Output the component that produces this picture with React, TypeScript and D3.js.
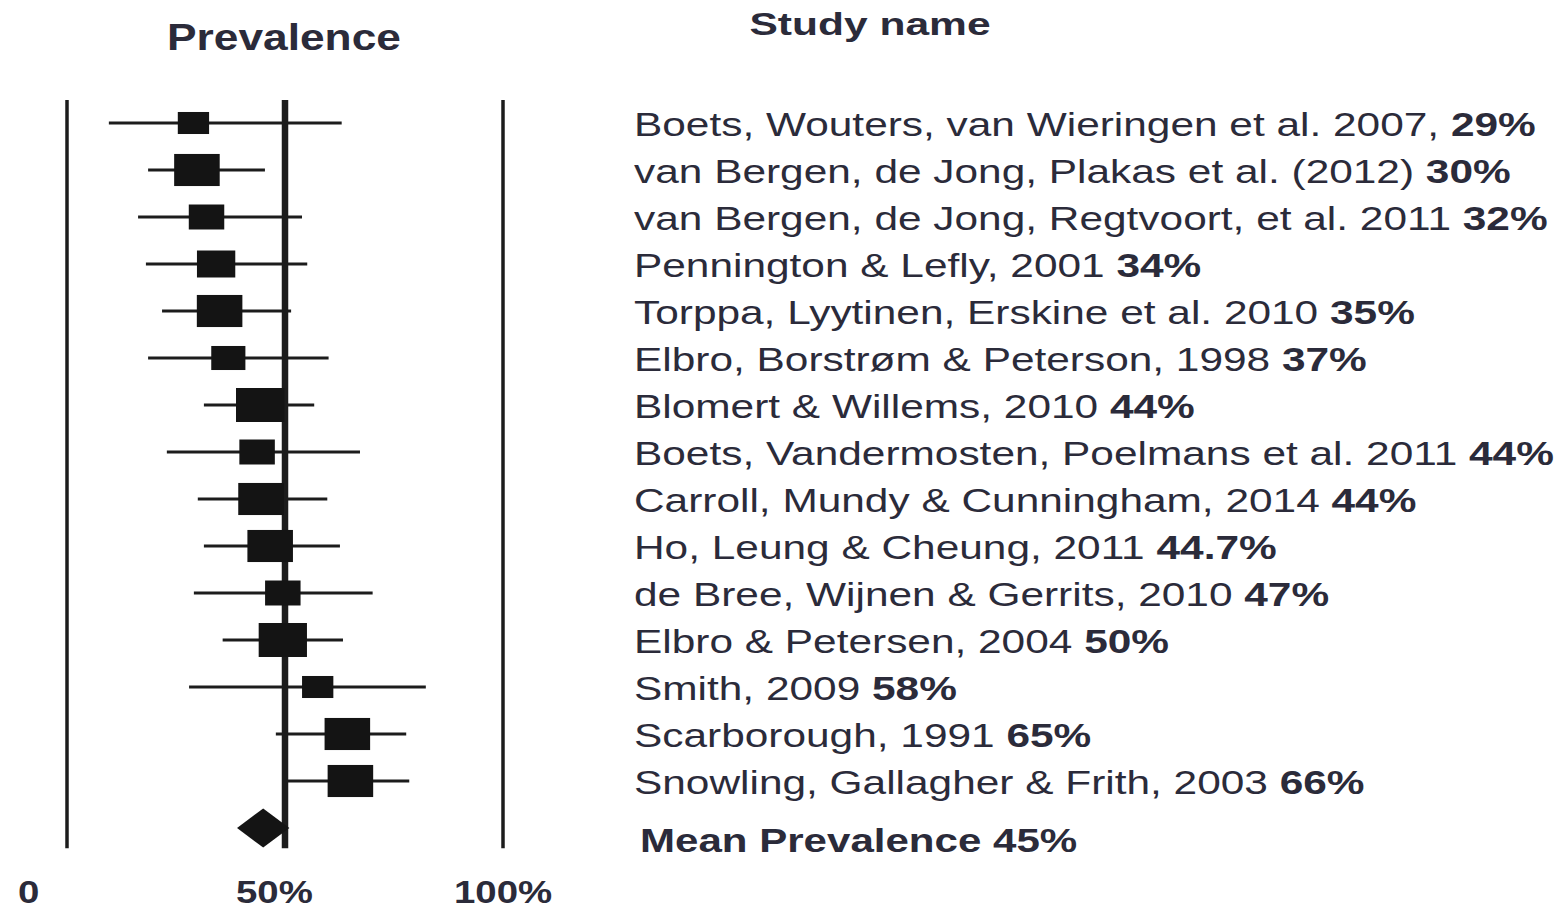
import { useCallback, useEffect, useRef } from "react";
import * as d3 from "d3";

// study labels (regular part + bold prevalence)
const studyNames = [
    "Boets, Wouters, van Wieringen et al. 2007, ",
    "van Bergen, de Jong, Plakas et al. (2012) ",
    "van Bergen, de Jong, Regtvoort, et al. 2011 ",
    "Pennington & Lefly, 2001 ",
    "Torppa, Lyytinen, Erskine et al. 2010 ",
    "Elbro, Borstrøm & Peterson, 1998 ",
    "Blomert & Willems, 2010 ",
    "Boets, Vandermosten, Poelmans et al. 2011 ",
    "Carroll, Mundy & Cunningham, 2014 ",
    "Ho, Leung & Cheung, 2011 ",
    "de Bree, Wijnen & Gerrits, 2010 ",
    "Elbro & Petersen, 2004 ",
    "Smith, 2009 ",
    "Scarborough, 1991 ",
    "Snowling, Gallagher & Frith, 2003 ",
];
const studyLabels = ["29%", "30%", "32%", "34%", "35%", "37%", "44%", "44%", "44%", "44.7%", "47%", "50%", "58%", "65%", "66%"];

// point estimates and confidence limits (%)
const estimates = [29, 29.8, 32, 34.2, 35, 37, 44.3, 43.6, 44.5, 46.6, 49.5, 49.5, 57.5, 64.3, 65];
const lowerCI = [9.6, 18.6, 16.3, 18.1, 21.8, 18.6, 31.4, 22.9, 30, 31.4, 29.1, 35.7, 28, 47.9, 50.4];
const upperCI = [63, 45.4, 53.9, 55.1, 51.4, 60, 56.7, 67.2, 59.7, 62.6, 70.1, 63.3, 82.3, 77.8, 78.5];
// relative study weights (box size)
const weights = [4.2, 8.9, 5.4, 6.3, 8.9, 5.0, 10, 5.4, 8.9, 8.9, 5.4, 10, 4.2, 8.9, 8.9];

const meanLabel = "Mean Prevalence 45%";
const meanEstimate = 45;
const meanLower = 39;
const meanUpper = 51;

const axisTicks = [0, 50, 100];
const axisTickLabels = ["0", "50%", "100%"];

const WIDTH = 1560;
const HEIGHT = 911;
const textColor = "#2b2b3a";
const inkColor = "#1c1c1c";
const font = "Liberation Sans, Arial, sans-serif";

export default function App() {
    const svgRef = useRef<SVGSVGElement>(null);

    const updateSvg = useCallback(() => {
        const svgEl = svgRef.current;
        if (!svgEl) return;

        const xScale = d3.scaleLinear().domain([0, 100]).range([67, 503]);
        const yScale = d3.scaleLinear().domain([0, studyNames.length]).range([123, 828]);
        const boxScale = d3.scaleSqrt().domain([0, 10]).range([0, 34]);
        const boxAspect = 1.42;

        d3.select(svgEl).selectAll("*").remove();
        const svg = d3.select(svgEl);

        // reference lines at 0, 50% and 100%
        svg.append("g")
            .selectAll("line")
            .data(axisTicks)
            .join("line")
            .attr("x1", d => xScale(d))
            .attr("x2", d => xScale(d))
            .attr("y1", yScale(-0.49))
            .attr("y2", yScale(studyNames.length + 0.43))
            .attr("stroke", inkColor)
            .attr("stroke-width", d => d === 50 ? 6.5 : 3.5);

        const rows = estimates.map((est, i) => ({
            est,
            lo: lowerCI[i],
            hi: upperCI[i],
            w: weights[i],
            i,
        }));

        // confidence intervals
        svg.append("g")
            .selectAll("line")
            .data(rows)
            .join("line")
            .attr("x1", d => xScale(d.lo))
            .attr("x2", d => xScale(d.hi))
            .attr("y1", d => yScale(d.i))
            .attr("y2", d => yScale(d.i))
            .attr("stroke", inkColor)
            .attr("stroke-width", 2.8);

        // weighted boxes
        svg.append("g")
            .selectAll("rect")
            .data(rows)
            .join("rect")
            .attr("x", d => xScale(d.est) - boxScale(d.w) * boxAspect / 2)
            .attr("y", d => yScale(d.i) - boxScale(d.w) / 2)
            .attr("width", d => boxScale(d.w) * boxAspect)
            .attr("height", d => boxScale(d.w))
            .attr("fill", "#141414");

        // summary diamond
        const my = yScale(studyNames.length);
        const dh = 19.5;
        svg.append("path")
            .attr("d", `M${xScale(meanLower)},${my}L${xScale(meanEstimate)},${my - dh}L${xScale(meanUpper)},${my}L${xScale(meanEstimate)},${my + dh}Z`)
            .attr("fill", "#141414");

        // headers
        svg.append("text")
            .attr("transform", `translate(${xScale(50) - 1},50) scale(1.23,1)`)
            .attr("text-anchor", "middle")
            .attr("font-family", font)
            .attr("font-weight", "bold")
            .attr("font-size", 36)
            .attr("fill", textColor)
            .text("Prevalence");

        svg.append("text")
            .attr("transform", `translate(870,35) scale(1.33,1)`)
            .attr("text-anchor", "middle")
            .attr("font-family", font)
            .attr("font-weight", "bold")
            .attr("font-size", 32)
            .attr("fill", textColor)
            .text("Study name");

        // study labels
        const labels = svg.append("g")
            .selectAll("text")
            .data(rows)
            .join("text")
            .attr("transform", d => `translate(634,${yScale(d.i) + 13}) scale(1.285,1)`)
            .attr("font-family", font)
            .attr("font-size", 33)
            .attr("fill", textColor);
        labels.append("tspan").text(d => studyNames[d.i]);
        labels.append("tspan").attr("font-weight", "bold").text(d => studyLabels[d.i]);

        svg.append("text")
            .attr("transform", `translate(640,${my + 24}) scale(1.275,1)`)
            .attr("font-family", font)
            .attr("font-weight", "bold")
            .attr("font-size", 33)
            .attr("fill", textColor)
            .text(meanLabel);

        // axis labels
        svg.append("g")
            .selectAll("text")
            .data(axisTicks)
            .join("text")
            .attr("transform", d => `translate(${xScale(d) - 49},903) scale(1.2,1)`)
            .attr("font-family", font)
            .attr("font-weight", "bold")
            .attr("font-size", 32)
            .attr("fill", textColor)
            .text((d, i) => axisTickLabels[i]);
    }, []);

    useEffect(() => {
        updateSvg();
    }, [updateSvg]);

    return (
        <svg
            ref={svgRef}
            width={WIDTH}
            height={HEIGHT}
            style={{ position: "absolute", left: 0, top: 0, background: "#fff" }}
        />
    );
}
